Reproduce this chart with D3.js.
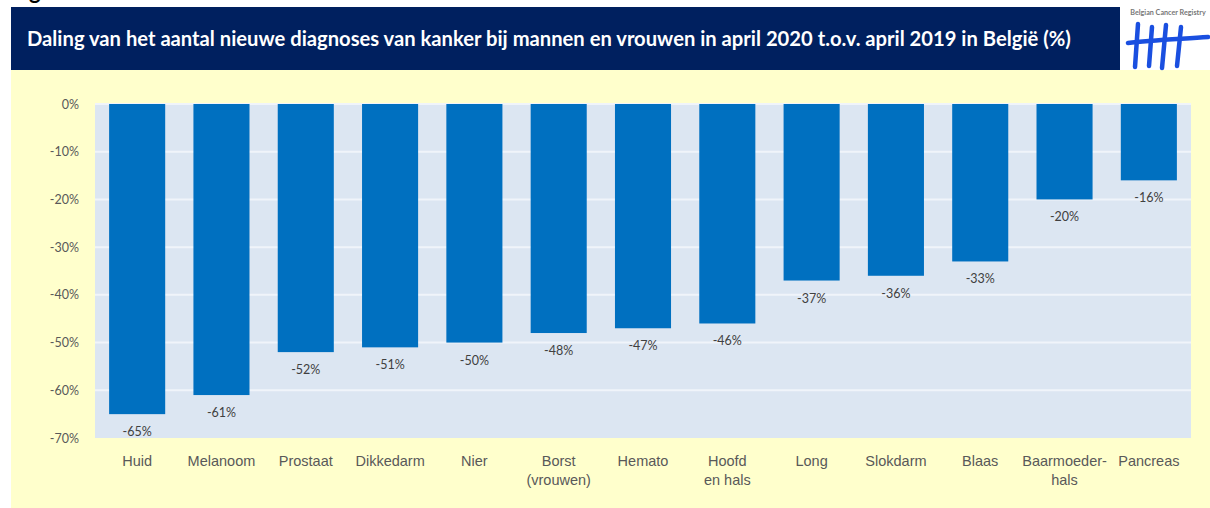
<!DOCTYPE html>
<html>
<head>
<meta charset="utf-8">
<script src="https://cdn.jsdelivr.net/npm/d3@7"></script>
<style>
  body { margin: 0; background: #fff; }
  svg { display: block; font-family: Lato, "Open Sans", sans-serif; }
</style>
</head>
<body>
<div id="chart"></div>
<script>
// categories (lines split for the axis) and values in %
const categories = ["Huid", "Melanoom", "Prostaat", "Dikkedarm", "Nier", "Borst\n(vrouwen)", "Hemato",
  "Hoofd\nen hals", "Long", "Slokdarm", "Blaas", "Baarmoeder-\nhals", "Pancreas"];
const values = [-65, -61, -52, -51, -50, -48, -47, -46, -37, -36, -33, -20, -16];
const yTicks = [0, -10, -20, -30, -40, -50, -60, -70];
const titleText = "Daling van het aantal nieuwe diagnoses van kanker bij mannen en vrouwen in april 2020 t.o.v. april 2019 in België (%)";

const W = 1210, H = 508;
const plot = { left: 95, right: 1191, top: 104, bottom: 438 };

const svg = d3.select("#chart").append("svg")
  .attr("width", W)
  .attr("height", H);

// page bits: clipped caption, yellow panel, banner, logo area
svg.append("text")
  .attr("x", 11).attr("y", -1)
  .attr("font-size", 22).attr("font-weight", "bold")
  .attr("fill", "#000")
  .text("Figuur");

svg.append("rect")
  .attr("x", 11).attr("y", 70)
  .attr("width", W - 11).attr("height", H - 70)
  .attr("fill", "#FFFFCC");

svg.append("rect")
  .attr("x", 11).attr("y", 7)
  .attr("width", 1109).attr("height", 63)
  .attr("fill", "#00205F");

const title = svg.append("text")
  .attr("x", 27).attr("y", 46)
  .attr("font-size", 18).attr("font-weight", "bold")
  .attr("fill", "#fff")
  .text(titleText);
// squeeze the title to the width it takes in the original
const tw = title.node().getComputedTextLength();
title.attr("font-size", 18 * 1044 / tw);

// logo
const logo = svg.append("g");
logo.append("text")
  .attr("x", 1168).attr("y", 15)
  .attr("text-anchor", "middle")
  .attr("font-size", 7.2).attr("font-weight", "bold")
  .attr("fill", "#777")
  .text("Belgian Cancer Registry");
const strokes = [
  "M1138,24 L1135,67",
  "M1152,27 L1149,66",
  "M1166,25 L1162,68",
  "M1181,27 L1177,66",
  "M1128,43 C1150,40 1180,39 1208,37"
];
logo.selectAll("path").data(strokes).join("path")
  .attr("d", d => d)
  .attr("fill", "none")
  .attr("stroke", "#1A4FE0")
  .attr("stroke-width", 4.5)
  .attr("stroke-linecap", "round");

// scales
const x = d3.scaleBand()
  .domain(categories)
  .range([plot.left, plot.right])
  .paddingInner(0.335)
  .paddingOuter(0.1675);

const y = d3.scaleLinear()
  .domain([0, -70])
  .range([plot.top, plot.bottom]);

// plot area + gridlines
svg.append("rect")
  .attr("x", plot.left).attr("y", plot.top)
  .attr("width", plot.right - plot.left).attr("height", plot.bottom - plot.top)
  .attr("fill", "#DCE6F2");

svg.append("g")
  .selectAll("line")
  .data(yTicks.slice(0, -1))
  .join("line")
    .attr("x1", plot.left).attr("x2", plot.right)
    .attr("y1", d => y(d)).attr("y2", d => y(d))
    .attr("stroke", "#F0F4FA")
    .attr("stroke-width", 2);

// y axis labels
const yAxis = svg.append("g")
  .attr("transform", `translate(${plot.left - 13},0)`)
  .call(d3.axisLeft(y).tickValues(yTicks).tickSize(0).tickFormat(d => d + "%"));
yAxis.select(".domain").remove();
yAxis.selectAll("text")
  .attr("font-family", "Lato, sans-serif")
  .attr("font-size", 12.5)
  .attr("fill", "#595959");

// bars
svg.append("g")
  .selectAll("rect")
  .data(values)
  .join("rect")
    .attr("x", (d, i) => x(categories[i]))
    .attr("y", y(0))
    .attr("width", x.bandwidth())
    .attr("height", d => y(d) - y(0))
    .attr("fill", "#0070C0");

// value labels
svg.append("g")
  .selectAll("text")
  .data(values)
  .join("text")
    .attr("x", (d, i) => x(categories[i]) + x.bandwidth() / 2)
    .attr("y", d => y(d) + 22)
    .attr("text-anchor", "middle")
    .attr("font-size", 12.5)
    .attr("fill", "#404040")
    .text(d => d + "%");

// category labels
const xAxis = svg.append("g")
  .attr("transform", `translate(0,${plot.bottom})`)
  .call(d3.axisBottom(x).tickSize(0).tickFormat(""));
xAxis.select(".domain").remove();
xAxis.selectAll(".tick").append("text")
  .attr("text-anchor", "middle")
  .attr("font-size", 14.5)
  .attr("fill", "#595959")
  .selectAll("tspan")
  .data(d => d.split("\n"))
  .join("tspan")
    .attr("x", 0)
    .attr("y", (d, i) => 28 + i * 19)
    .text(d => d);
</script>
</body>
</html>
